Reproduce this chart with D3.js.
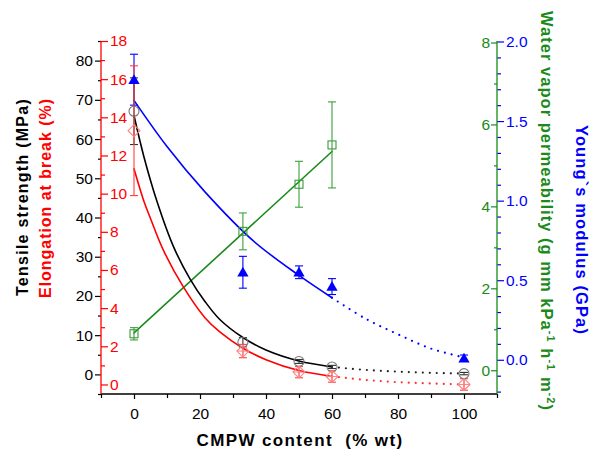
<!DOCTYPE html>
<html><head><meta charset="utf-8">
<script src="https://cdn.jsdelivr.net/npm/d3@7"></script>
<style>body{margin:0;background:#fff}svg{display:block}text{font-family:"Liberation Sans",Arial,sans-serif}</style>
</head><body><svg id="c" width="592" height="452"></svg>
<script>
// ---- data ----
const content = [0, 33, 50, 60, 100];
const tensile = [67.1, 8.2, 3.3, 1.9, 0.2];
const tensileErr = [8.5, 1.2, 0.5, 0.4, 0.3];
const elongation = [13.3, 1.75, 0.65, 0.42, 0.0];
const elongationErr = [3.4, 0.35, 0.3, 0.3, 0.3];
const youngs = [1.76, 0.55, 0.55, 0.46, 0.01];
const youngsErr = [0.16, 0.1, 0.04, 0.05, 0.02];
const wvpX = [0, 33, 50, 60];
const wvp = [0.89, 3.39, 4.54, 5.5];
const wvpErr = [0.15, 0.45, 0.56, 1.05];
// fitted curves
const tensileFitX = [0, 3, 7, 12, 17, 21.5, 26, 33, 40, 50, 60];
const tensileFitY = [66, 55.5, 44, 32.5, 24.3, 18.6, 14, 9.4, 6.2, 3.4, 1.9];
const tensileDotX = [60, 70, 80, 90, 100];
const tensileDotY = [1.9, 1.15, 0.7, 0.4, 0.2];
const elongFitX = [0, 3, 5, 9, 15, 21.5, 26, 33, 40, 50, 60];
const elongFitY = [11.3, 9.6, 8.7, 7.0, 5.1, 3.5, 2.75, 1.9, 1.3, 0.73, 0.42];
const elongDotX = [60, 70, 80, 90, 100];
const elongDotY = [0.42, 0.24, 0.12, 0.05, 0.0];
const youngFitX = [0, 10, 21.5, 36, 50, 60];
const youngFitY = [1.63, 1.34, 1.055, 0.75, 0.53, 0.39];
const youngDotX = [60, 70, 80, 90, 100];
const youngDotY = [0.39, 0.26, 0.16, 0.07, 0.015];
const wvpFitX = [0, 60];
const wvpFitY = [0.91, 5.34];
// ticks
const xTicks = [0, 20, 40, 60, 80, 100];
const xMinor = [-10, 10, 30, 50, 70, 90, 110];
const blackTicks = [0, 10, 20, 30, 40, 50, 60, 70, 80];
const blackMinor = [-5, 5, 15, 25, 35, 45, 55, 65, 75, 85];
const redTicks = [0, 2, 4, 6, 8, 10, 12, 14, 16, 18];
const redMinor = [1, 3, 5, 7, 9, 11, 13, 15, 17];
const greenTicks = [0, 2, 4, 6, 8];
const greenMinor = [1, 3, 5, 7];
const blueTicks = [0.0, 0.5, 1.0, 1.5, 2.0];
const blueMinor = [-0.2,-0.1,0.1,0.2,0.3,0.4,0.6,0.7,0.8,0.9,1.1,1.2,1.3,1.4,1.6,1.7,1.8,1.9];

const RED = "#ff0000", BLUE = "#0000ff", GREEN = "#1a8a1a", BLACK = "#000";
const svg = d3.select("#c");
const L = 101, R = 497, T = 41, B = 394;
const x = d3.scaleLinear([-10, 110], [L, R]);
const yK = d3.scaleLinear([-5, 85], [B, T]);
const yR = d3.scaleLinear([-0.5, 18], [B, T]);
const yG = d3.scaleLinear([-0.58, 8], [B, 42.5]);
const yB = d3.scaleLinear([-0.215, 2.0], [B, 41.5]);

function styleAxis(g, color, fs) {
  g.select(".domain").remove();
  g.selectAll("line").attr("stroke", color).attr("stroke-width", 1.2);
  g.selectAll("text").attr("fill", color).style("font-size", fs + "px").attr("font-family", null);
}
// bottom axis
svg.append("g").attr("transform", `translate(0,${B})`)
  .call(d3.axisBottom(x).tickValues(xTicks).tickSize(5).tickPadding(9).tickFormat(d3.format("d")))
  .call(g => styleAxis(g, BLACK, 15.5));
svg.append("g").attr("transform", `translate(0,${B})`)
  .call(d3.axisBottom(x).tickValues(xMinor).tickSize(4).tickFormat(""))
  .call(g => styleAxis(g, BLACK, 15));
// black left axis
svg.append("g").attr("transform", `translate(${L},0)`)
  .call(d3.axisLeft(yK).tickValues(blackTicks).tickSize(6).tickPadding(2).tickFormat(d3.format("d")))
  .call(g => styleAxis(g, BLACK, 15.5));
svg.append("g").attr("transform", `translate(${L},0)`)
  .call(d3.axisLeft(yK).tickValues(blackMinor).tickSize(3).tickFormat(""))
  .call(g => styleAxis(g, BLACK, 15));
// red axis (inside)
svg.append("g").attr("transform", `translate(${L},0)`)
  .call(d3.axisRight(yR).tickValues(redTicks).tickSize(7).tickPadding(2).tickFormat(d3.format("d")))
  .call(g => styleAxis(g, RED, 15.5));
svg.append("g").attr("transform", `translate(${L},0)`)
  .call(d3.axisRight(yR).tickValues(redMinor).tickSize(4).tickFormat(""))
  .call(g => styleAxis(g, RED, 15));
// green axis (right, ticks left)
svg.append("g").attr("transform", `translate(${R},0)`)
  .call(d3.axisLeft(yG).tickValues(greenTicks).tickSize(6).tickPadding(1).tickFormat(d3.format("d")))
  .call(g => styleAxis(g, GREEN, 15.5));
svg.append("g").attr("transform", `translate(${R},0)`)
  .call(d3.axisLeft(yG).tickValues(greenMinor).tickSize(3).tickFormat(""))
  .call(g => styleAxis(g, GREEN, 15));
// blue axis (right, ticks right)
svg.append("g").attr("transform", `translate(${R},0)`)
  .call(d3.axisRight(yB).tickValues(blueTicks).tickSize(7).tickPadding(2).tickFormat(d3.format(".1f")))
  .call(g => styleAxis(g, BLUE, 15.5));
svg.append("g").attr("transform", `translate(${R},0)`)
  .call(d3.axisRight(yB).tickValues(blueMinor).tickSize(4).tickFormat(""))
  .call(g => styleAxis(g, BLUE, 15));
// axis lines
svg.append("line").attr("x1", L).attr("x2", R).attr("y1", B).attr("y2", B).attr("stroke", BLACK).attr("stroke-width", 1.3);
svg.append("line").attr("x1", L).attr("x2", L).attr("y1", T).attr("y2", B).attr("stroke", RED).attr("stroke-width", 1.3);
svg.append("line").attr("x1", R).attr("x2", R).attr("y1", T).attr("y2", B).attr("stroke", GREEN).attr("stroke-width", 1.3);

// curves
function curve(xs, ys, yS, color, dotted) {
  const line = d3.line().x(d => x(d[0])).y(d => yS(d[1])).curve(d3.curveCatmullRom.alpha(0.5));
  svg.append("path").datum(xs.map((v, i) => [v, ys[i]])).attr("d", line)
    .attr("fill", "none").attr("stroke", color).attr("stroke-width", dotted ? 2.2 : 1.6)
    .attr("stroke-dasharray", dotted ? "0,7" : null).attr("stroke-linecap", "round");
}
curve(wvpFitX, wvpFitY, yG, GREEN, false);
curve(youngFitX, youngFitY, yB, BLUE, false);
curve(youngDotX, youngDotY, yB, BLUE, true);
curve(tensileFitX, tensileFitY, yK, BLACK, false);
curve(tensileDotX, tensileDotY, yK, "#222", true);
curve(elongFitX, elongFitY, yR, RED, false);
curve(elongDotX, elongDotY, yR, "#ff3030", true);

// error bars
function errs(xs, ys, es, yS, color) {
  const g = svg.append("g").attr("stroke", color).attr("stroke-width", 1.1);
  xs.forEach((v, i) => {
    const cx = x(v), y1 = yS(ys[i] + es[i]), y2 = yS(ys[i] - es[i]);
    g.append("line").attr("x1", cx).attr("x2", cx).attr("y1", y1).attr("y2", y2);
    g.append("line").attr("x1", cx - 4).attr("x2", cx + 4).attr("y1", y1).attr("y2", y1);
    g.append("line").attr("x1", cx - 4).attr("x2", cx + 4).attr("y1", y2).attr("y2", y2);
  });
}
errs(wvpX, wvp, wvpErr, yG, "#3aa03a");
errs(content, youngs, youngsErr, yB, BLUE);
errs(content, tensile, tensileErr, yK, "#333");
errs(content, elongation, elongationErr, yR, "#ff4040");

// markers
const sq = svg.append("g");
wvpX.forEach((v, i) => sq.append("rect").attr("x", x(v) - 4).attr("y", yG(wvp[i]) - 4).attr("width", 8).attr("height", 8)
  .attr("fill", "none").attr("stroke", "#3a9a3a").attr("stroke-width", 1.1));
content.forEach((v, i) => svg.append("path").attr("d", d3.symbol(d3.symbolTriangle, 55)())
  .attr("transform", `translate(${x(v)},${yB(youngs[i]) + 1})`).attr("fill", BLUE));
content.forEach((v, i) => svg.append("circle").attr("cx", x(v)).attr("cy", yK(tensile[i])).attr("r", 5)
  .attr("fill", "none").attr("stroke", "#777").attr("stroke-width", 1.1));
content.forEach((v, i) => {
  const cx = x(v), cy = yR(elongation[i]);
  svg.append("path").attr("d", `M${cx},${cy-6}L${cx+6},${cy}L${cx},${cy+6}L${cx-6},${cy}Z`)
    .attr("fill", "none").attr("stroke", "#ff8080").attr("stroke-width", 1.1);
  if (i > 0) svg.append("path").attr("d", `M${cx-6},${cy}H${cx+6}M${cx},${cy-6}V${cy+6}`)
    .attr("stroke", "#ff8080").attr("stroke-width", 1);
});

// titles (stretched with letter-spacing to the reference's span)
function fit(t, target) {
  const n = t.text().length;
  const w = t.node().getComputedTextLength();
  t.style("letter-spacing", ((target - w) / n) + "px");
}
const t1 = svg.append("text").attr("transform", "translate(28,197) rotate(-90)").attr("text-anchor", "middle")
  .style("font-size", "16px").style("font-weight", "bold").attr("fill", BLACK).text("Tensile strength (MPa)");
fit(t1, 198);
const t2 = svg.append("text").attr("transform", "translate(51,198) rotate(-90)").attr("text-anchor", "middle")
  .style("font-size", "16px").style("font-weight", "bold").attr("fill", RED).text("Elongation at break (%)");
fit(t2, 200);
const t3 = svg.append("text").attr("x", 300).attr("y", 446).attr("text-anchor", "middle")
  .style("font-size", "17px").style("font-weight", "bold").attr("fill", BLACK).attr("xml:space", "preserve").text("CMPW content  (% wt)");
fit(t3, 207);
const gt = svg.append("text").attr("transform", "translate(541,211) rotate(90)").attr("text-anchor", "middle")
  .style("font-size", "16.5px").style("font-weight", "bold").attr("fill", GREEN);
gt.append("tspan").text("Water vapor permeability (g mm kPa");
gt.append("tspan").attr("dy", -6).style("font-size", "11px").text("-1");
gt.append("tspan").attr("dy", 6).text(" h");
gt.append("tspan").attr("dy", -6).style("font-size", "11px").text("-1");
gt.append("tspan").attr("dy", 6).text(" m");
gt.append("tspan").attr("dy", -6).style("font-size", "11px").text("-2");
gt.append("tspan").attr("dy", 6).text(")");
fit(gt, 400);
const t5 = svg.append("text").attr("transform", "translate(576,230) rotate(90)").attr("text-anchor", "middle")
  .style("font-size", "16.5px").style("font-weight", "bold").attr("fill", BLUE).text("Young`s modulus (GPa)");
fit(t5, 210);
</script></body></html>
